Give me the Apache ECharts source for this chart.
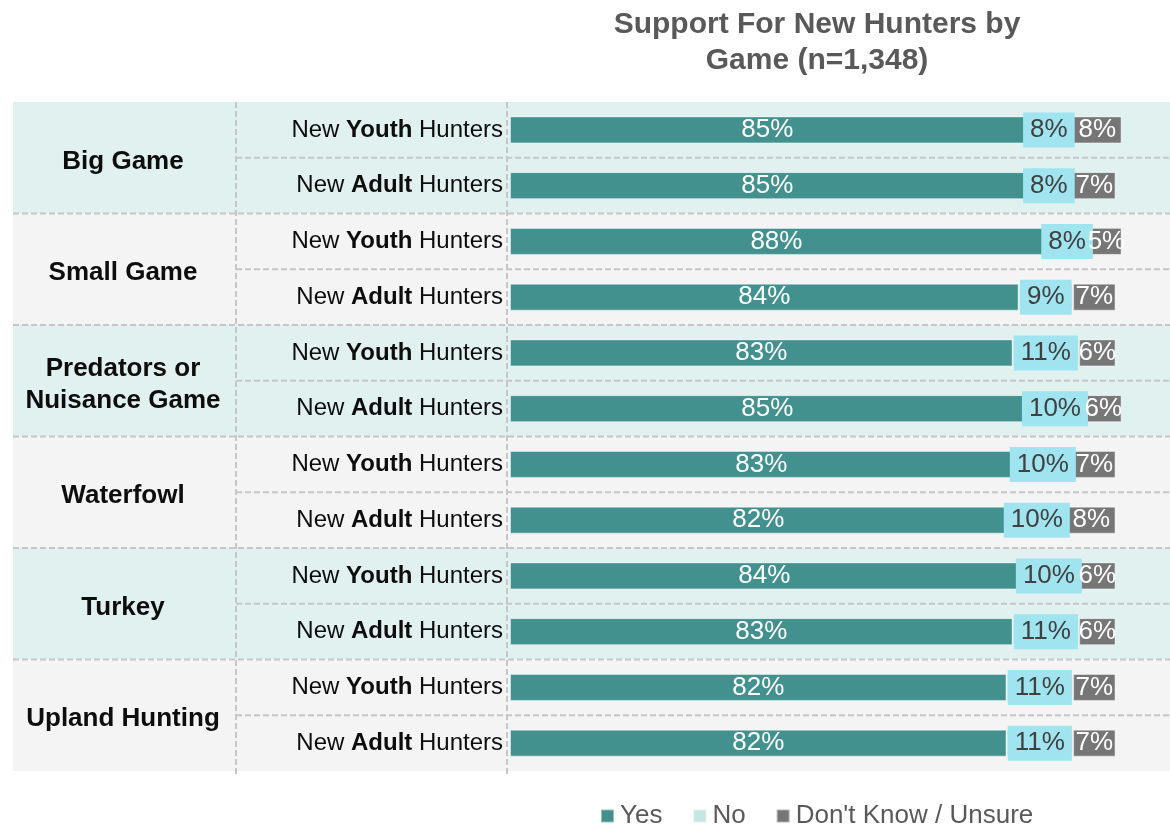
<!DOCTYPE html>
<html>
<head>
<meta charset="utf-8">
<title>Support For New Hunters by Game</title>
<script src="https://cdn.jsdelivr.net/npm/echarts@6/dist/echarts.min.js"></script>
<style>
  html, body { margin: 0; padding: 0; background: #ffffff; }
  #chart { width: 1170px; height: 828px; }
</style>
</head>
<body>
<div id="chart"></div>
<script>
// Game groups and the two audiences asked about in each
const groups = ['Big Game', 'Small Game', 'Predators or\nNuisance Game', 'Waterfowl', 'Turkey', 'Upland Hunting'];
const audiences = ['Youth', 'Adult'];

// Percent of respondents per row (group × audience, in order)
const yesValues     = [85, 85, 88, 84, 83, 85, 83, 82, 84, 83, 82, 82];
const noValues      = [8, 8, 8, 9, 11, 10, 10, 10, 10, 11, 11, 11];
const unsureValues  = [8, 7, 5, 7, 6, 6, 7, 8, 6, 6, 7, 7];

const seriesNames = ['Yes', 'No', "Don't Know / Unsure"];

// Row keys: one per group/audience pair
const rowKeys = [];
groups.forEach(g => audiences.forEach(a => rowKeys.push(g + '|' + a)));

const FONT = '"Liberation Sans", Arial, sans-serif';
const pct = p => p.value + '%';

const chart = echarts.init(document.getElementById('chart'), null, { renderer: 'canvas' });

const option = {
  animation: false,
  backgroundColor: '#ffffff',
  textStyle: { fontFamily: FONT },
  title: {
    text: 'Support For New Hunters by\nGame (n=1,348)',
    left: 812,
    top: 2,
    textAlign: 'center',
    textStyle: { fontFamily: FONT, fontSize: 30, fontWeight: 'bold', color: '#595959', lineHeight: 36 }
  },
  legend: {
    data: seriesNames,
    left: 600,
    top: 803,
    padding: 0,
    icon: 'rect',
    itemWidth: 13,
    itemHeight: 13,
    itemGap: 30,
    textStyle: { fontFamily: FONT, fontSize: 26, color: '#595959', padding: [0, 0, 0, 1] }
  },
  grid: { left: 510, right: 0, top: 102, bottom: 57, containLabel: false },
  xAxis: {
    type: 'value', min: 0, max: 109, show: false
  },
  yAxis: [
    {
      type: 'category',
      data: rowKeys,
      inverse: true,
      axisLine: { show: false },
      axisTick: { show: false },
      splitLine: { show: false },
      axisLabel: {
        margin: 7,
        fontFamily: FONT,
        formatter: v => '{n|New }{b|' + v.split('|')[1] + '}{n| Hunters}',
        rich: {
          n: { fontFamily: FONT, fontSize: 24, color: '#0d0d0d' },
          b: { fontFamily: FONT, fontSize: 24, color: '#0d0d0d', fontWeight: 'bold' }
        }
      }
    },
    {
      type: 'category',
      data: groups,
      inverse: true,
      position: 'left',
      offset: 0,
      axisLine: { show: false },
      axisTick: { show: false },
      splitLine: { show: false },
      axisLabel: {
        margin: 387,
        align: 'center',
        formatter: v => v.split('\n').map(s => '{g|' + s + '}').join('\n'),
        rich: {
          g: {
            fontFamily: FONT, fontSize: 26, fontWeight: 'bold', color: '#0d0d0d',
            lineHeight: 32, padding: [8, 0, 0, 0]
          }
        }
      }
    }
  ],
  series: [
    {
      name: seriesNames[0], type: 'bar', stack: 'all', yAxisIndex: 0,
      barWidth: 27,
      data: yesValues,
      itemStyle: { color: '#43918f', borderColor: 'rgba(255,255,255,0.45)', borderWidth: 1 },
      label: { show: true, position: 'inside', formatter: pct, fontFamily: FONT, fontSize: 26, color: '#ffffff' }
    },
    {
      name: seriesNames[1], type: 'bar', stack: 'all', yAxisIndex: 0,
      barWidth: 27,
      data: noValues,
      itemStyle: { color: '#c5e6e3', borderColor: 'rgba(255,255,255,0.45)', borderWidth: 1 },
      label: {
        show: true, position: 'inside', formatter: pct, fontFamily: FONT, fontSize: 26, color: '#404040',
        backgroundColor: '#a0e4f0', padding: [5, 7, 4, 7]
      }
    },
    {
      name: seriesNames[2], type: 'bar', stack: 'all', yAxisIndex: 0,
      barWidth: 27,
      data: unsureValues,
      itemStyle: { color: '#767676', borderColor: 'rgba(255,255,255,0.45)', borderWidth: 1 },
      label: { show: true, position: 'inside', formatter: pct, fontFamily: FONT, fontSize: 26, color: '#ffffff' }
    }
  ]
};

chart.setOption(option);

// Banded backgrounds and dashed dividers, placed from the category axes
function drawFrame() {
  const W = chart.getWidth();
  const centers = groups.map(g => chart.convertToPixel({ yAxisIndex: 1 }, g));
  const half = (centers[1] - centers[0]) / 2;
  const top = centers[0] - half;
  const bottom = centers[centers.length - 1] + half;
  const bandColors = ['#e1f1f0', '#f4f4f4'];
  const dash = { stroke: '#c6c6c6', lineWidth: 2, lineDash: [6, 3] };
  const els = [];

  centers.forEach((c, i) => {
    els.push({
      type: 'rect', z: -10, silent: true,
      shape: { x: 13, y: c - half, width: W - 13, height: half * 2 },
      style: { fill: bandColors[i % 2] }
    });
    // divider between the two audience rows
    els.push({
      type: 'line', z: -5, silent: true,
      shape: { x1: 236, y1: c, x2: W, y2: c },
      style: dash
    });
    // divider between groups
    if (i < centers.length - 1) {
      els.push({
        type: 'line', z: -5, silent: true,
        shape: { x1: 13, y1: c + half, x2: W, y2: c + half },
        style: dash
      });
    }
  });

  [236, 507].forEach(x => {
    els.push({
      type: 'line', z: -5, silent: true,
      shape: { x1: x, y1: top, x2: x, y2: bottom + 4 },
      style: dash
    });
  });

  chart.setOption({ graphic: { elements: els } });
}

drawFrame();
</script>
</body>
</html>
